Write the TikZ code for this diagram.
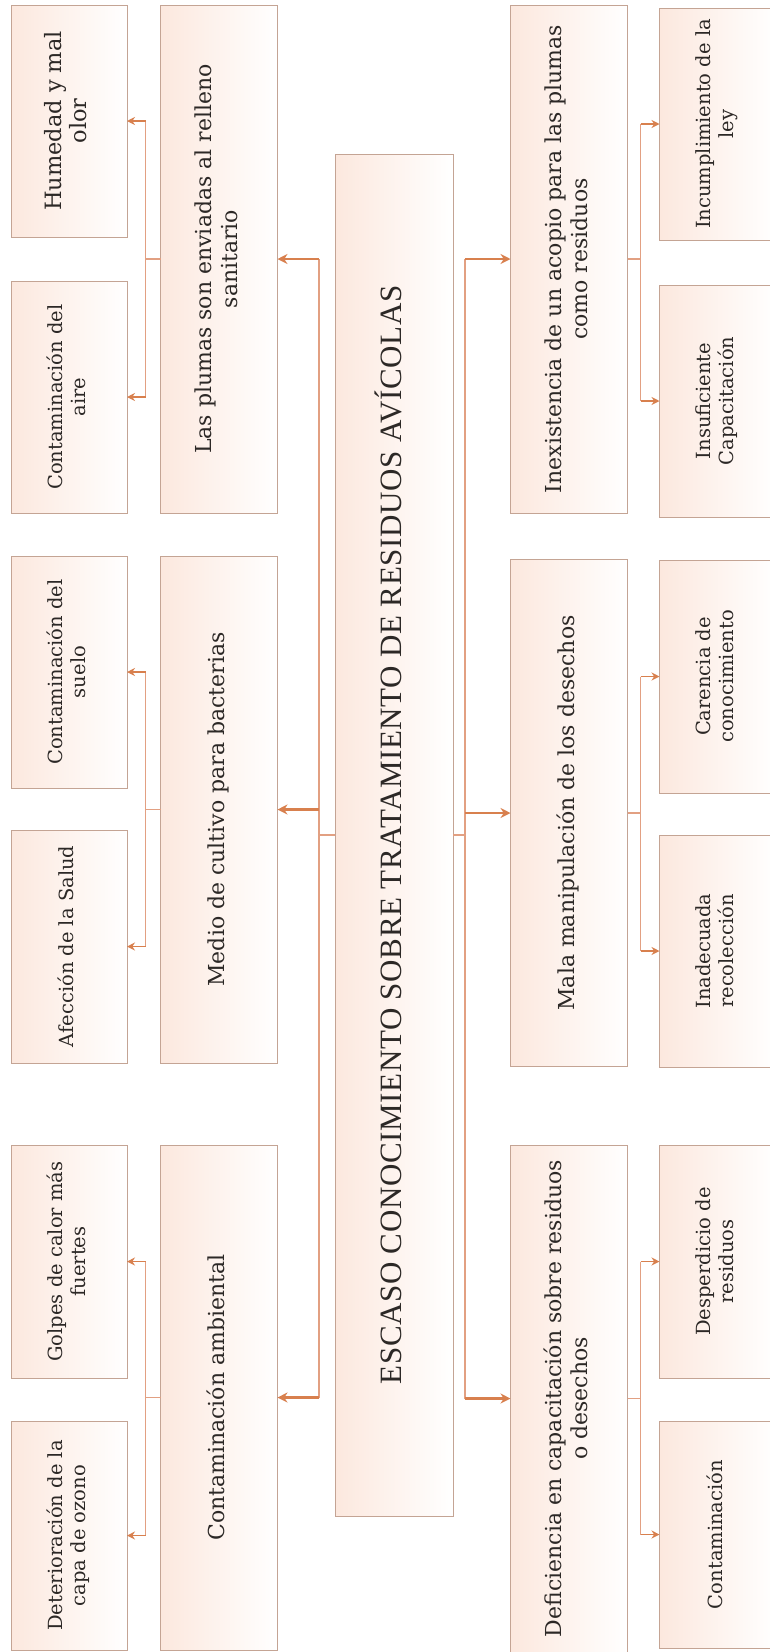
\documentclass[tikz,border=0pt]{standalone}
\usepackage{fontspec}
\setmainfont{DejaVu Serif}
\newfontfamily\titlefam[LetterSpace=2]{Liberation Serif}
\newfontfamily\boxfam{DejaVu Serif}
\usetikzlibrary{arrows.meta}
\definecolor{boxline}{RGB}{196,164,148}
\definecolor{peach}{RGB}{252,232,222}
\definecolor{arrowc}{RGB}{216,128,78}
\definecolor{trunkc}{RGB}{226,160,130}
\definecolor{txt}{RGB}{44,40,38}
% text set bottom-to-top, lines centred
\newcommand\vlines[1]{\rotatebox{90}{\begin{tabular}{@{}c@{}}#1\end{tabular}}}
\tikzset{
  cbox/.style={draw=boxline, line width=1pt, left color=peach, right color=white,
    inner sep=0pt, outer sep=0pt, text=txt},
  titlebox/.style={cbox, minimum width=118pt, minimum height=1362pt,
    font=\titlefam\fontsize{31}{36}\selectfont},
  cause/.style={cbox, minimum width=117pt, font=\boxfam\fontsize{22}{26}\selectfont},
  leaf/.style={cbox, minimum width=116pt, font=\boxfam\fontsize{19.5}{23}\selectfont},
  bigleaf/.style={leaf, font=\boxfam\fontsize{22.5}{25}\selectfont},
  trunk/.style={draw=trunkc, line width=1.3pt},
  mainarrow/.style={draw=arrowc, line width=2.2pt, -{Stealth[length=10pt,width=10pt]}},
  subarrow/.style={draw=arrowc, line width=1.5pt, -{Stealth[length=8pt,width=8pt]}},
}
\begin{document}
\begin{tikzpicture}[x=1pt,y=-1pt]
\useasboundingbox (0,0) rectangle (769,1652);

% central problem
\node[titlebox] (c) at (394,835) {\vlines{ESCASO CONOCIMIENTO SOBRE TRATAMIENTO DE RESIDUOS AVÍCOLAS}};

% effects side
\node[cause, minimum height=508pt] (plumas) at (219,259) {\vlines{Las plumas son enviadas al relleno\\sanitario}};
\node[cause, minimum height=507pt] (medio) at (219,809.5) {\vlines{Medio de cultivo para bacterias}};
\node[cause, minimum height=505pt] (amb) at (219,1397.5) {\vlines{Contaminación ambiental}};

\node[bigleaf, minimum height=232pt] (humedad) at (69,121) {\vlines{Humedad y mal\\olor}};
\node[leaf, minimum height=232pt] (aire) at (69,397) {\vlines{Contaminación del\\aire}};
\node[leaf, minimum height=232pt] (suelo) at (69,672) {\vlines{Contaminación del\\suelo}};
\node[leaf, minimum height=233pt] (salud) at (69,946.5) {\vlines{Afección de la Salud}};
\node[leaf, minimum height=233pt] (golpes) at (69,1261.5) {\vlines{Golpes de calor más\\fuertes}};
\node[leaf, minimum height=229pt] (ozono) at (69,1535.5) {\vlines{Deterioración de la\\capa de ozono}};

% causes side
\node[cause, minimum height=508pt] (acopio) at (569,259) {\vlines{Inexistencia de un acopio para las plumas\\como residuos}};
\node[cause, minimum height=507pt] (manip) at (569,813) {\vlines{Mala manipulación de los desechos}};
\node[cause, minimum height=507pt] (defic) at (569,1398.5) {\vlines{Deficiencia en capacitación sobre residuos\\o desechos}};

\node[leaf, minimum height=232pt] (ley) at (717.5,124) {\vlines{Incumplimiento de la\\ley}};
\node[leaf, minimum height=232pt] (capac) at (717.5,401) {\vlines{Insuficiente\\Capacitación}};
\node[leaf, minimum height=233pt] (conoc) at (717.5,676.5) {\vlines{Carencia de\\conocimiento}};
\node[leaf, minimum height=232pt] (recol) at (717.5,951) {\vlines{Inadecuada\\recolección}};
\node[leaf, minimum height=233pt] (desper) at (717.5,1261.5) {\vlines{Desperdicio de\\residuos}};
\node[leaf, minimum height=227pt] (contam) at (717.5,1534.5) {\vlines{Contaminación}};

% main trunks
\coordinate (tl) at (319,835);
\coordinate (tr) at (465,835);
\draw[trunk] (c.west) -- (tl);
\draw[trunk] (c.east) -- (tr);
\draw[trunk] (tl |- plumas.east) -- (tl |- amb.east);
\draw[trunk] (tr |- acopio.west) -- (tr |- defic.west);
\foreach \n in {plumas,medio,amb} \draw[mainarrow] (tl |- \n.east) -- (\n.east);
\foreach \n in {acopio,manip,defic} \draw[mainarrow] (tr |- \n.west) -- (\n.west);

% left branches
\foreach \p/\a/\b in {plumas/humedad/aire, medio/suelo/salud, amb/golpes/ozono}{
  \draw[trunk] (\p.west) -- ++(-15,0) coordinate (k);
  \draw[trunk] (k |- \a.east) -- (k |- \b.east);
  \draw[subarrow] (k |- \a.east) -- (\a.east);
  \draw[subarrow] (k |- \b.east) -- (\b.east);
}
% right branches
\foreach \p/\a/\b in {acopio/ley/capac, manip/conoc/recol, defic/desper/contam}{
  \draw[trunk] (\p.east) -- ++(13,0) coordinate (k);
  \draw[trunk] (k |- \a.west) -- (k |- \b.west);
  \draw[subarrow] (k |- \a.west) -- (\a.west);
  \draw[subarrow] (k |- \b.west) -- (\b.west);
}
\end{tikzpicture}
\end{document}
